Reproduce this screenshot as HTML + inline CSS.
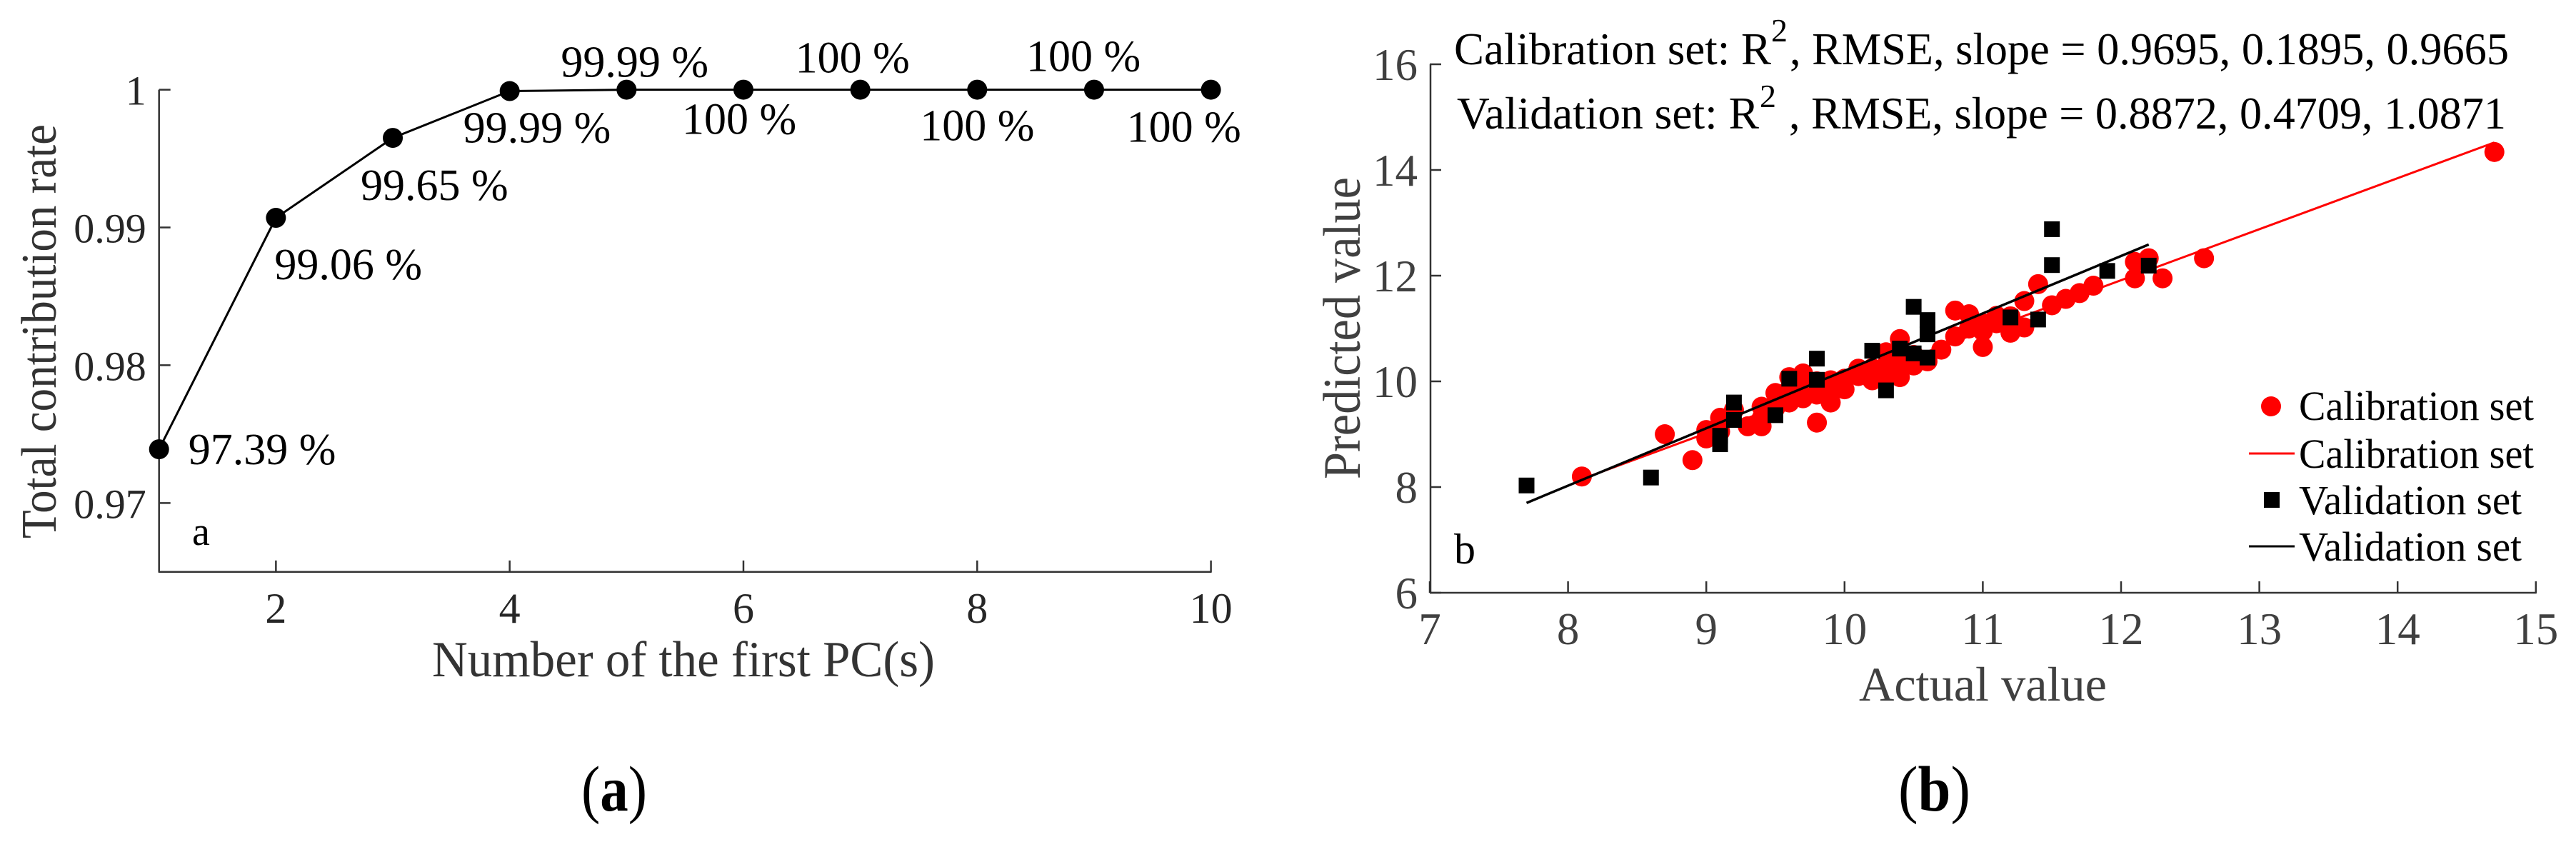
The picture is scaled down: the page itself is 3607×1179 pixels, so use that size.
<!DOCTYPE html>
<html lang="en">
<head>
<meta charset="utf-8">
<title>PCA contribution and calibration charts</title>
<style>
html,body{margin:0;padding:0;background:#fff;width:3607px;height:1179px;overflow:hidden}
svg{display:block}
text{font-family:"Liberation Serif","Times New Roman",serif}
</style>
</head>
<body>
<svg id="fig" xmlns="http://www.w3.org/2000/svg" width="3607" height="1179" viewBox="0 0 3607 1179">
  <rect x="0" y="0" width="3607" height="1179" fill="#fff"/>

  <g id="panelA"></g>
  <g id="panelB"></g>

  <text x="605" y="947" font-size="71" fill="#333" textLength="704" lengthAdjust="spacingAndGlyphs">Number of the first PC(s)</text>
  <text transform="translate(78,754) rotate(-90)" font-size="70" fill="#333" textLength="580" lengthAdjust="spacingAndGlyphs">Total contribution rate</text>
  <text x="269" y="763" font-size="56" fill="#000">a</text>
  <text x="814" y="1135" font-size="90" fill="#000" textLength="92" lengthAdjust="spacingAndGlyphs">(<tspan font-weight="bold">a</tspan>)</text>

  <text x="2603" y="981" font-size="68" fill="#404040" textLength="347" lengthAdjust="spacingAndGlyphs">Actual value</text>
  <text transform="translate(1904,671) rotate(-90)" font-size="74" fill="#404040" textLength="423" lengthAdjust="spacingAndGlyphs">Predicted value</text>
  <text x="2036" y="789" font-size="60" fill="#000">b</text>
  <text x="2658" y="1135" font-size="90" fill="#000" textLength="101" lengthAdjust="spacingAndGlyphs">(<tspan font-weight="bold">b</tspan>)</text>

  <g>
    <text x="2036" y="90" font-size="63" fill="#000" textLength="444" lengthAdjust="spacingAndGlyphs">Calibration set: R</text>
    <text x="2480" y="58" font-size="46" fill="#000">2</text>
    <text x="2506" y="90" font-size="63" fill="#000" textLength="1007" lengthAdjust="spacingAndGlyphs">, RMSE, slope = 0.9695, 0.1895, 0.9665</text>
  </g>
  <g>
    <text x="2040" y="180" font-size="63" fill="#000" textLength="423" lengthAdjust="spacingAndGlyphs">Validation set: R</text>
    <text x="2464" y="150" font-size="46" fill="#000">2</text>
    <text x="2505" y="180" font-size="63" fill="#000" textLength="1004" lengthAdjust="spacingAndGlyphs">, RMSE, slope = 0.8872, 0.4709, 1.0871</text>
  </g>

  <g>
    <g>
      <circle cx="3180" cy="569" r="14" fill="#f00"/>
      <text x="3219" y="588" font-size="58" fill="#000" textLength="329" lengthAdjust="spacingAndGlyphs">Calibration set</text>
    </g>
    <g>
      <line x1="3149" y1="635" x2="3213" y2="635" stroke="#f00" stroke-width="3"/>
      <text x="3219" y="655" font-size="58" fill="#000" textLength="329" lengthAdjust="spacingAndGlyphs">Calibration set</text>
    </g>
    <g>
      <rect x="3170" y="689" width="22" height="22" fill="#000"/>
      <text x="3219" y="720" font-size="58" fill="#000" textLength="312" lengthAdjust="spacingAndGlyphs">Validation set</text>
    </g>
    <g>
      <line x1="3149" y1="765" x2="3213" y2="765" stroke="#000" stroke-width="3"/>
      <text x="3219" y="785" font-size="58" fill="#000" textLength="312" lengthAdjust="spacingAndGlyphs">Validation set</text>
    </g>
  </g>
</svg>

<script>
// Panel (a) data
const pcCounts = [1, 2, 3, 4, 5, 6, 7, 8, 9, 10];
const contributionRates = [0.9739, 0.9907, 0.9965, 0.9999, 1, 1, 1, 1, 1, 1];
const contributionLabels = ['97.39 %', '99.06 %', '99.65 %', '99.99 %', '99.99 %', '100 %', '100 %', '100 %', '100 %', '100 %'];
const pcTicks = [2, 4, 6, 8, 10];
const rateTicks = [0.97, 0.98, 0.99, 1];
const rateTickLabels = ['0.97', '0.98', '0.99', '1'];

// Panel (b) data
const calibrationActual = [8.1, 8.7, 8.9, 9.0, 9.0, 9.1, 9.1, 9.2, 9.3, 9.4, 9.4, 9.4, 9.5, 9.5, 9.6, 9.6, 9.6, 9.7, 9.7, 9.7, 9.8, 9.8, 9.8, 9.9, 9.9, 9.9, 10.0, 10.0, 10.1, 10.1, 10.2, 10.2, 10.2, 10.3, 10.3, 10.3, 10.4, 10.4, 10.4, 10.4, 10.5, 10.5, 10.6, 10.7, 10.8, 10.8, 10.9, 10.9, 11.0, 11.0, 11.0, 11.1, 11.1, 11.2, 11.2, 11.3, 11.3, 11.4, 11.5, 11.6, 11.7, 11.8, 12.1, 12.1, 12.2, 12.3, 12.6, 14.7];
const calibrationPredicted = [8.2, 9.0, 8.51, 9.08, 8.92, 9.31, 9.05, 9.46, 9.15, 9.52, 9.15, 9.3, 9.78, 9.5, 10.08, 9.6, 9.85, 10.15, 9.68, 9.9, 9.22, 9.75, 10.0, 9.6, 10.02, 9.8, 10.05, 9.85, 10.24, 10.1, 10.02, 10.25, 10.12, 10.55, 10.1, 10.3, 10.8, 10.08, 10.3, 10.55, 10.3, 10.5, 10.38, 10.6, 11.34, 10.85, 11.27, 11.0, 10.65, 10.95, 11.1, 11.24, 11.1, 10.92, 11.23, 11.02, 11.52, 11.84, 11.44, 11.56, 11.67, 11.81, 12.26, 11.95, 12.33, 11.95, 12.33, 14.34];
const validationActual = [7.7, 8.6, 9.1, 9.1, 9.2, 9.2, 9.5, 9.6, 9.8, 9.8, 10.2, 10.3, 10.4, 10.5, 10.5, 10.6, 10.6, 10.6, 11.2, 11.4, 11.5, 11.5, 11.9, 12.2];
const validationPredicted = [8.03, 8.18, 8.97, 8.81, 9.6, 9.27, 9.36, 10.05, 10.43, 10.03, 10.58, 9.83, 10.62, 11.41, 10.53, 11.16, 10.89, 10.45, 11.21, 11.17, 12.88, 12.2, 12.09, 12.19];
const calibrationFitX = [8.1, 14.7];
const calibrationFitY = [8.15, 14.52];
const validationFitX = [7.7, 12.2];
const validationFitY = [7.7, 12.59];
const actualTicks = [7, 8, 9, 10, 11, 12, 13, 14, 15];
const predictedTicks = [6, 8, 10, 12, 14, 16];

const NS = 'http://www.w3.org/2000/svg';
function make(tag, parent) {
  const node = document.createElementNS(NS, tag);
  parent.appendChild(node);
  return node;
}
function setAttrs(node, attrs) {
  Object.keys(attrs).forEach(function (k) { node.setAttribute(k, attrs[k]); });
  return node;
}

// Panel (a) axis functions
const ax = function (v) { return 222.7 + (v - 1) * (1695.6 - 222.7) / 9; };
const ay = function (v) { return 800.8 - (v - 0.965) / 0.035 * 675.2; };
// Panel (b) axis functions
const bx = function (v) { return 2002 + (v - 7) * 193.6; };
const by = function (v) { return 830 - (v - 6) * 74; };

const AXIS = '#333';
const panelA = document.getElementById('panelA');
const panelB = document.getElementById('panelB');

// ---- Panel (a) axes
(function () {
  const yAxis = make('line', panelA);
  
  
  setAttrs(yAxis, { x1: ax(1), y1: ay(1), x2: ax(1), y2: ay(0.965), stroke: AXIS, 'stroke-width': 2.5 });
  const xAxis = make('line', panelA);
  
  
  setAttrs(xAxis, { x1: ax(1) - 1, y1: ay(0.965), x2: ax(10) + 1, y2: ay(0.965), stroke: AXIS, 'stroke-width': 2.5 });

  rateTicks.forEach(function (v, i) {
    const t = make('line', panelA);
    
    
    setAttrs(t, { x1: ax(1), y1: ay(v), x2: ax(1) + 16, y2: ay(v), stroke: AXIS, 'stroke-width': 2.5 });
    const l = make('text', panelA);
    
    
    setAttrs(l, { x: ax(1) - 18, y: ay(v) + 21, 'text-anchor': 'end', 'font-size': 58, fill: '#262626' });
    l.textContent = rateTickLabels[i];
  });
  pcTicks.forEach(function (v) {
    const t = make('line', panelA);
    
    
    setAttrs(t, { x1: ax(v), y1: ay(0.965), x2: ax(v), y2: ay(0.965) - 16, stroke: AXIS, 'stroke-width': 2.5 });
    const l = make('text', panelA);
    
    
    setAttrs(l, { x: ax(v), y: 872, 'text-anchor': 'middle', 'font-size': 60, fill: '#262626' });
    l.textContent = String(v);
  });

  const path = make('polyline', panelA);
  
  
  setAttrs(path, {
    points: pcCounts.map(function (p, i) { return ax(p) + ',' + ay(contributionRates[i]); }).join(' '),
    fill: 'none', stroke: '#000', 'stroke-width': 3
  });
  pcCounts.forEach(function (p, i) {
    const c = make('circle', panelA);
    
    
    setAttrs(c, { cx: ax(p), cy: ay(contributionRates[i]), r: 14, fill: '#000' });
  });
})();

// Percentage labels sit at an offset from their own point
function percentLabel(index, dx, dy) {
  const l = make('text', panelA);
  
  
  setAttrs(l, { x: ax(pcCounts[index]) + dx, y: ay(contributionRates[index]) + dy, 'font-size': 62, fill: '#000' });
  l.textContent = contributionLabels[index];
}
percentLabel(0, 41, 21);
percentLabel(1, -2, 86);
percentLabel(2, -45, 87);
percentLabel(3, -65, 72);
percentLabel(4, -92, -18);
percentLabel(5, -86, 62);
percentLabel(6, -91, -24);
percentLabel(7, -80, 71);
percentLabel(8, -95, -26);
percentLabel(9, -118, 73);

// ---- Panel (b) axes and marks
(function () {
  const yAxis = make('line', panelB);
  
  
  setAttrs(yAxis, { x1: bx(7) + 1, y1: by(16), x2: bx(7) + 1, y2: by(6), stroke: AXIS, 'stroke-width': 2.5 });
  const xAxis = make('line', panelB);
  
  
  setAttrs(xAxis, { x1: bx(7), y1: by(6), x2: bx(15) + 1, y2: by(6), stroke: AXIS, 'stroke-width': 2.5 });

  predictedTicks.forEach(function (v) {
    const t = make('line', panelB);
    
    
    setAttrs(t, { x1: bx(7), y1: by(v), x2: bx(7) + 16, y2: by(v), stroke: AXIS, 'stroke-width': 2.5 });
    const l = make('text', panelB);
    
    
    setAttrs(l, { x: bx(7) - 17, y: by(v) + 22, 'text-anchor': 'end', 'font-size': 63, fill: '#404040' });
    l.textContent = String(v);
  });
  actualTicks.forEach(function (v) {
    const t = make('line', panelB);
    
    
    setAttrs(t, { x1: bx(v), y1: by(6), x2: bx(v), y2: by(6) - 16, stroke: AXIS, 'stroke-width': 2.5 });
    const l = make('text', panelB);
    
    
    setAttrs(l, { x: bx(v), y: 902, 'text-anchor': 'middle', 'font-size': 63, fill: '#404040' });
    l.textContent = String(v);
  });

  calibrationActual.forEach(function (v, i) {
    const c = make('circle', panelB);
    
    
    setAttrs(c, { cx: bx(v), cy: by(calibrationPredicted[i]), r: 14, fill: '#f00' });
  });
  const redFit = make('line', panelB);
  
  
  setAttrs(redFit, { x1: bx(calibrationFitX[0]), y1: by(calibrationFitY[0]), x2: bx(calibrationFitX[1]), y2: by(calibrationFitY[1]), stroke: '#f00', 'stroke-width': 3 });

  validationActual.forEach(function (v, i) {
    const s = make('rect', panelB);
    
    
    setAttrs(s, { x: bx(v) - 11, y: by(validationPredicted[i]) - 11, width: 22, height: 22, fill: '#000' });
  });
  const blackFit = make('line', panelB);
  
  
  setAttrs(blackFit, { x1: bx(validationFitX[0]), y1: by(validationFitY[0]), x2: bx(validationFitX[1]), y2: by(validationFitY[1]), stroke: '#000', 'stroke-width': 3.5 });
})();
</script>
</body>
</html>
